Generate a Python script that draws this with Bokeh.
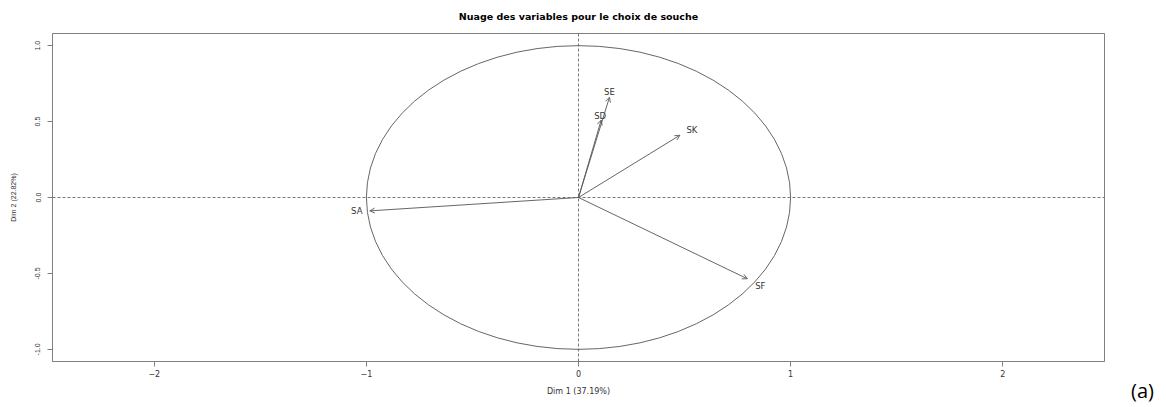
from bokeh.plotting import figure
from bokeh.layouts import row
from bokeh.models import Span, Arrow, OpenHead, FixedTicker, PrintfTickFormatter, Div, ColumnDataSource
from bokeh.core.properties import value
from bokeh.embed import file_html
from bokeh.resources import INLINE

variables = ["SA", "SD", "SE", "SF", "SK"]
dim1 = [-0.984, 0.107, 0.146, 0.796, 0.478]
dim2 = [-0.088, 0.51, 0.66, -0.535, 0.41]
x_ticks = [-2, -1, 0, 1, 2]
y_ticks = [-1.0, -0.5, 0.0, 0.5, 1.0]

# label placement (screen px), style only
lab_dx = [-13, -1, 0, 13, 12]
lab_dy = [0, -4, -5, 7, -5]

HFONT = "DejaVu Sans"      # horizontal texts (reference is horizontally stretched)
VFONT = "Liberation Sans"  # vertical texts
GREY = "#808080"

p = figure(width=1128, height=407, output_backend="svg", toolbar_location=None,
           x_range=(-2.48, 2.48), y_range=(-1.08, 1.08),
           min_border_left=52, min_border_right=24, min_border_top=32, min_border_bottom=46,
           title="Nuage des variables pour le choix de souche")
p.title.align = "center"
p.title.vertical_align = "top"
p.title.text_font = HFONT
p.title.text_font_size = "9.5px"
p.title.text_font_style = "bold"
p.title.text_color = "#000000"
p.title.standoff = 20

p.xgrid.visible = False
p.ygrid.visible = False
p.outline_line_color = GREY
p.outline_line_width = 1

for ax in (p.xaxis[0], p.yaxis[0]):
    ax.axis_line_color = GREY
    ax.major_tick_line_color = GREY
    ax.minor_tick_line_color = None
    ax.major_tick_out = 5
    ax.major_tick_in = 0
    ax.major_label_text_color = "#333333"
    ax.axis_label_text_font_style = "normal"
    ax.axis_label_text_color = "#333333"

p.xaxis.major_label_text_font = HFONT
p.xaxis.major_label_text_font_size = "8px"
p.xaxis.axis_label_text_font = HFONT
p.xaxis.axis_label_text_font_size = "8px"
p.yaxis.major_label_text_font = VFONT
p.yaxis.major_label_text_font_size = "7px"
p.yaxis.axis_label_text_font = VFONT
p.yaxis.axis_label_text_font_size = "7px"

p.xaxis.ticker = FixedTicker(ticks=x_ticks)
p.yaxis.ticker = FixedTicker(ticks=y_ticks)
p.yaxis.formatter = PrintfTickFormatter(format="%.1f")
p.yaxis.major_label_orientation = "vertical"
p.xaxis.axis_label = "Dim 1 (37.19%)"
p.yaxis.axis_label = "Dim 2 (22.82%)"
p.xaxis.major_label_standoff = 3
p.xaxis.axis_label_standoff = 7
p.yaxis.major_label_standoff = 7
p.yaxis.axis_label_standoff = 16

# reference lines
p.add_layout(Span(location=0, dimension="width", line_color="#555555", line_dash="3 2", line_width=0.8))
p.add_layout(Span(location=0, dimension="height", line_color="#555555", line_dash="3 2", line_width=0.8))

# correlation circle
p.ellipse(x=[0], y=[0], width=[2], height=[2], fill_color=None, line_color="#555555", line_width=0.9)

# arrows
for xv, yv in zip(dim1, dim2):
    p.add_layout(Arrow(end=OpenHead(size=5, line_color="#444444", line_width=0.8),
                       x_start=0, y_start=0, x_end=xv, y_end=yv,
                       line_color="#555555", line_width=0.9))

src = ColumnDataSource(dict(x=dim1, y=dim2, t=variables, dx=lab_dx, dy=lab_dy))
p.text(x="x", y="y", text="t", x_offset="dx", y_offset="dy", source=src,
       text_font=value(HFONT), text_font_size="8.5px", text_color="#333333",
       text_align="center", text_baseline="middle")

tag = Div(text="<div style=\"margin-top:372px;margin-left:-2px;font-family:'Open Sans';"
               "font-size:20px;line-height:28px;color:#000;\">(a)</div>",
          width=38, height=407)

layout = row(p, tag, spacing=0)
open("out.html", "w").write(file_html(layout, INLINE))
